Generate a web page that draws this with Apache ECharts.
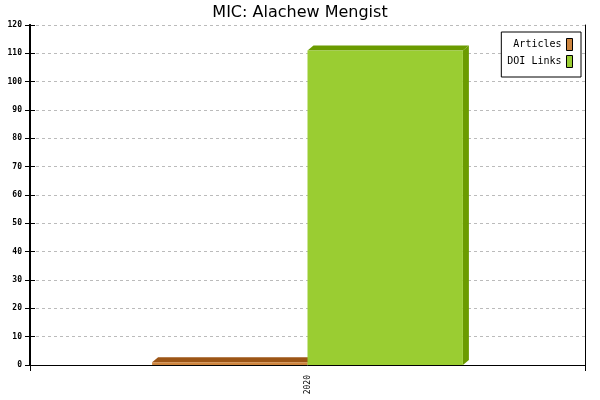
<!DOCTYPE html>
<html><head><meta charset="utf-8">
<script src="https://cdn.jsdelivr.net/npm/echarts@6/dist/echarts.min.js"></script>
<style>html,body{margin:0;padding:0;background:#fff}#c{width:600px;height:400px}</style>
</head><body><div id="c"></div>
<script>
const categories = ['2020'];
const articles = [1];
const doiLinks = [111];
const yTicks = {min: 0, max: 120, interval: 10};

const chart = echarts.init(document.getElementById('c'), null, {renderer: 'canvas'});
const mono = 'DejaVu Sans Mono';

function make3D(offset, front, dark) {
  return function (params, api) {
    const cat = api.value(0), v = api.value(1);
    const p = api.coord([cat, v]);
    const p0 = api.coord([cat, 0]);
    const band = api.size([1, 0])[0];
    const w = band * 0.28;
    const x0 = p[0] + offset * w;
    const dx = 6, dy = 5;
    return {
      type: 'group',
      children: [
        {type: 'polygon', shape: {points: [[x0 + w, p[1]], [x0 + w + dx, p[1] - dy], [x0 + w + dx, p0[1] - dy], [x0 + w, p0[1]]]}, style: {fill: dark}},
        {type: 'polygon', shape: {points: [[x0, p[1]], [x0 + dx, p[1] - dy], [x0 + w + dx, p[1] - dy], [x0 + w, p[1]]]}, style: {fill: dark}},
        {type: 'rect', shape: {x: x0, y: p[1], width: w, height: p0[1] - p[1]}, style: {fill: front}}
      ]
    };
  };
}

chart.setOption({
  animation: false,
  backgroundColor: '#fff',
  title: {text: 'MIC: Alachew Mengist', left: 'center', top: 0,
    textStyle: {fontSize: 16, fontWeight: 'normal', fontFamily: 'DejaVu Sans', color: '#000'}},
  legend: {
    orient: 'vertical', right: 19, top: 32, align: 'right',
    itemWidth: 6, itemHeight: 12, itemGap: 4, padding: [6, 8, 9, 6],
    borderColor: '#000', borderWidth: 1, backgroundColor: '#fff',
    icon: 'rect',
    itemStyle: {borderColor: '#000', borderWidth: 1},
    textStyle: {fontFamily: mono, fontSize: 10, color: '#000', lineHeight: 12},
    data: ['Articles', 'DOI Links']
  },
  grid: {left: 30, right: 15, top: 25, bottom: 35, containLabel: false},
  xAxis: {
    type: 'category', data: categories, boundaryGap: true,
    axisLine: {lineStyle: {color: '#000', width: 1}},
    axisTick: {show: true, length: 6, interval: 0, lineStyle: {color: '#000'}},
    axisLabel: {rotate: 90, fontSize: 8, fontFamily: mono, color: '#000', margin: 10},
    splitLine: {show: false}
  },
  yAxis: [
    {type: 'value', position: 'left', min: yTicks.min, max: yTicks.max, interval: yTicks.interval,
      axisLine: {show: true, lineStyle: {color: '#000', width: 2}},
      axisTick: {show: true, length: 5, lineStyle: {color: '#000'}},
      axisLabel: {fontSize: 8, fontFamily: mono, fontWeight: 'bold', color: '#000', margin: 8},
      splitLine: {show: true, lineStyle: {color: '#bbb', type: [3, 3], width: 1}}},
    {type: 'value', position: 'left', min: yTicks.min, max: yTicks.max, interval: yTicks.interval,
      axisLine: {show: true, lineStyle: {color: '#000', width: 2}},
      axisTick: {show: true, inside: true, length: 5, lineStyle: {color: '#000'}},
      axisLabel: {show: false}, splitLine: {show: false}},
    {type: 'value', position: 'right', min: yTicks.min, max: yTicks.max, interval: yTicks.interval,
      axisLine: {show: true, lineStyle: {color: '#000', width: 1}},
      axisTick: {show: false}, axisLabel: {show: false}, splitLine: {show: false}}
  ],
  series: [
    {name: 'Articles', type: 'custom', itemStyle: {color: '#CD853F'},
      renderItem: make3D(-1, '#CD853F', '#9C5516'),
      data: categories.map((c, i) => [i, articles[i]]), encode: {x: 0, y: 1}, z: 2},
    {name: 'DOI Links', type: 'custom', itemStyle: {color: '#9ACD32'},
      renderItem: make3D(0, '#9ACD32', '#6B9B00'),
      data: categories.map((c, i) => [i, doiLinks[i]]), encode: {x: 0, y: 1}, z: 3}
  ]
});
</script></body></html>
